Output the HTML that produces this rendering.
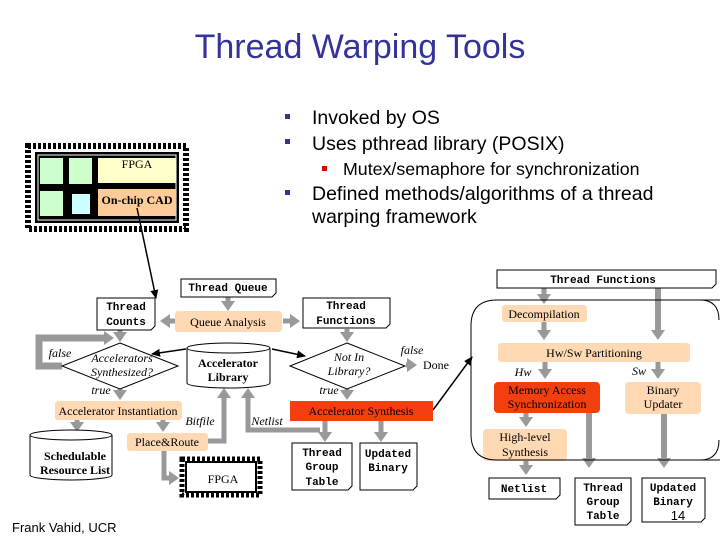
<!DOCTYPE html>
<html><head><meta charset="utf-8"><style>
body{margin:0;background:#fff;}
</style></head><body>
<svg width="720" height="540" viewBox="0 0 720 540" xmlns="http://www.w3.org/2000/svg" font-family="'Liberation Serif', serif">
<defs>
<marker id="g" markerUnits="userSpaceOnUse" markerWidth="14" markerHeight="14" refX="2" refY="7" orient="auto"><path d="M0,0 L10,7 L0,14 Z" fill="#999"/></marker>
<marker id="b" markerUnits="userSpaceOnUse" markerWidth="10" markerHeight="10" refX="8" refY="5" orient="auto"><path d="M0,1 L9,5 L0,9 Z" fill="#000"/></marker>
</defs>
<rect width="720" height="540" fill="#fff"/>
<text x="360" y="58" text-anchor="middle" font-family="'Liberation Sans', sans-serif" font-size="34" fill="#333399">Thread Warping Tools</text>
<g font-family="'Liberation Sans', sans-serif" font-size="19.5" fill="#000">
<rect x="285" y="114" width="5" height="5" fill="#333399"/><text x="312" y="124">Invoked by OS</text>
<rect x="285" y="139" width="5" height="5" fill="#333399"/><text x="312" y="150">Uses pthread library (POSIX)</text>
<rect x="322" y="166" width="5" height="5" fill="#d00"/><text x="343" y="175" font-size="17.8">Mutex/semaphore for synchronization</text>
<rect x="285" y="190" width="5" height="5" fill="#333399"/><text x="312" y="200">Defined methods/algorithms of a thread</text>
<text x="312" y="223">warping framework</text>
</g>
<g>
<rect x="28" y="146" width="158" height="83" fill="none" stroke="#000" stroke-width="6" stroke-dasharray="3,2"/>
<rect x="35" y="152" width="144" height="71" fill="#000"/>
<rect x="38" y="155" width="138" height="65" fill="none" stroke="#fff" stroke-width="1"/>
<rect x="40" y="158" width="23" height="26" fill="#cfc"/><rect x="69" y="158" width="23" height="26" fill="#cfc"/>
<rect x="40" y="191" width="23" height="25" fill="#cfc"/><rect x="72" y="194" width="18" height="20" fill="#cff"/>
<rect x="98" y="158" width="78" height="25" fill="#ffc"/><rect x="98" y="189" width="78" height="27" fill="#fc9"/>
<text x="137" y="168" text-anchor="middle" font-size="12">FPGA</text>
<text x="137" y="204" text-anchor="middle" font-size="12" font-weight="bold">On-chip CAD</text>
</g>
<line x1="137" y1="208" x2="156" y2="298" stroke="#000" stroke-width="1.5" marker-end="url(#b)"/>
<line x1="433" y1="410" x2="472" y2="357" stroke="#000" stroke-width="1.5" marker-end="url(#b)"/>
<g stroke="#999" stroke-width="5" fill="none" marker-end="url(#g)">
<line x1="228" y1="297" x2="228" y2="303"/>
<line x1="175" y1="321" x2="168" y2="321"/>
<line x1="283" y1="321" x2="292" y2="321"/>
<line x1="120" y1="330" x2="120" y2="334"/>
<line x1="347" y1="329" x2="347" y2="334"/>
<line x1="120" y1="389" x2="120" y2="392"/>
<line x1="347" y1="389" x2="347" y2="392"/>
<line x1="406" y1="365" x2="409" y2="365"/>
<line x1="77" y1="420" x2="77" y2="424"/>
<line x1="163" y1="420" x2="163" y2="424"/>
<line x1="325" y1="421" x2="325" y2="434"/>
<line x1="381" y1="421" x2="381" y2="434"/>
<polyline points="62,366 39,366 39,338 106,338" stroke-width="7"/>
<polyline points="208,441 224,441 224,396"/>
<polyline points="320,430 248,430 248,396"/>
<polyline points="164,451 164,478 171,478"/>
<line x1="544" y1="288" x2="544" y2="296"/>
<line x1="544" y1="322" x2="544" y2="332"/>
<line x1="658" y1="288" x2="658" y2="332" stroke-width="6"/>
<line x1="545" y1="362" x2="545" y2="371"/>
<line x1="658" y1="362" x2="658" y2="371"/>
<line x1="526" y1="413" x2="526" y2="419"/>
<line x1="526" y1="461" x2="526" y2="467"/>
<line x1="589" y1="413" x2="589" y2="460" stroke-width="6"/>
<line x1="664" y1="414" x2="664" y2="460" stroke-width="6"/>
</g>
<line x1="186" y1="349" x2="152" y2="354" stroke="#000" stroke-width="1.5" marker-end="url(#b)"/>
<line x1="272" y1="349" x2="305" y2="356" stroke="#000" stroke-width="1.5" marker-end="url(#b)"/>
<g fill="#fff" stroke="#000" stroke-width="1">
<path d="M181,279 H276 V293 L272,297 H181 Z"/>
<path d="M97,298 H155 V326 L151,330 H97 Z"/>
<path d="M303,298 H390 V324 L386,328 H303 Z"/>
<path d="M292,443 H352 V486 L348,490 H292 Z"/>
<path d="M360,443 H417 V486 L413,490 H360 Z"/>
<path d="M497,270 H716 V284 L712,288 H497 Z"/>
<path d="M489,478 H560 V495 L556,499 H489 Z"/>
<path d="M575,478 H631 V521 L627,525 H575 Z"/>
<path d="M642,478 H705 V518 L701,522 H642 Z"/>
</g>
<g font-family="'Liberation Mono', monospace" font-size="11" font-weight="bold" text-anchor="middle">
<text x="228" y="291">Thread Queue</text>
<text x="126" y="310">Thread</text><text x="126" y="325">Counts</text>
<text x="346" y="309">Thread</text><text x="346" y="324">Functions</text>
<text x="322" y="456">Thread</text><text x="322" y="470">Group</text><text x="322" y="485">Table</text>
<text x="388" y="457">Updated</text><text x="388" y="471">Binary</text>
<text x="603" y="283">Thread Functions</text>
<text x="524" y="492">Netlist</text>
<text x="603" y="491">Thread</text><text x="603" y="505">Group</text><text x="603" y="519">Table</text>
<text x="673" y="491">Updated</text><text x="673" y="505">Binary</text>
</g>
<text x="678" y="520" text-anchor="middle" font-size="13" font-family="'Liberation Sans', sans-serif">14</text>
<g fill="#fc9" fill-opacity="0.75">
<rect x="175" y="311" width="107" height="21" rx="3"/>
<rect x="55" y="401" width="127" height="19" rx="3"/>
<rect x="127" y="433" width="81" height="18" rx="3"/>
<rect x="502" y="305" width="85" height="17" rx="3"/>
<rect x="498" y="343" width="192" height="19" rx="3"/>
<rect x="625" y="382" width="76" height="32" rx="4"/>
<rect x="483" y="429" width="84" height="32" rx="4"/>
</g>
<rect x="290" y="401" width="143" height="20" fill="#f33f10"/>
<rect x="494" y="382" width="106" height="31" rx="4" fill="#f33f10"/>
<path d="M720,300 H497 Q471,300 471,326 V434 Q471,460 497,460 H720" fill="none" stroke="#000"/>
<path d="M700,300 Q719,300 719,320 M700,460 Q719,460 719,440" fill="none" stroke="#000"/>
<polygon points="120,343 178,366 120,389 62,366" fill="#fff" stroke="#000"/>
<polygon points="347,343 405,366 347,389 290,366" fill="#fff" stroke="#000"/>
<path d="M187,348 V383 A41.5,5 0 0 0 270,383 V348" fill="#fff" stroke="#000"/>
<ellipse cx="228.5" cy="348" rx="41.5" ry="5" fill="#fff" stroke="#000"/>
<path d="M30,435 V475 A41,5 0 0 0 112,475 V435" fill="#fff" stroke="#000"/>
<ellipse cx="71" cy="435" rx="41" ry="5" fill="#fff" stroke="#000"/>
<rect x="182" y="459" width="78" height="36" fill="none" stroke="#000" stroke-width="5" stroke-dasharray="3,2"/>
<rect x="186" y="462" width="70" height="30" fill="#fff" stroke="#000" stroke-width="2"/>
<text x="223" y="483" text-anchor="middle" font-size="12">FPGA</text>
<g font-size="12" text-anchor="middle">
<text x="228" y="326">Queue Analysis</text>
<text x="118" y="415">Accelerator Instantiation</text>
<text x="167" y="446">Place&amp;Route</text>
<text x="361" y="415">Accelerator Synthesis</text>
<text x="544" y="318">Decompilation</text>
<text x="594" y="357">Hw/Sw Partitioning</text>
<text x="547" y="394">Memory Access</text><text x="547" y="408">Synchronization</text>
<text x="663" y="394">Binary</text><text x="663" y="408">Updater</text>
<text x="525" y="441">High-level</text><text x="525" y="456">Synthesis</text>
<text x="436" y="369">Done</text>
<text x="228" y="367" font-weight="bold">Accelerator</text><text x="228" y="381" font-weight="bold">Library</text>
<text x="75" y="460" font-weight="bold">Schedulable</text><text x="75" y="474" font-weight="bold">Resource List</text>
</g>
<g font-size="12" font-style="italic" text-anchor="middle">
<text x="122" y="362">Accelerators</text><text x="122" y="376">Synthesized?</text>
<text x="349" y="361">Not In</text><text x="349" y="375">Library?</text>
<text x="60" y="357">false</text>
<text x="101" y="394">true</text>
<text x="329" y="394">true</text>
<text x="412" y="354">false</text>
<text x="200" y="425">Bitfile</text>
<text x="267" y="425">Netlist</text>
<text x="523" y="376">Hw</text>
<text x="639" y="375">Sw</text>
</g>
<text x="12" y="532" font-size="13" font-family="'Liberation Sans', sans-serif">Frank Vahid, UCR</text>
</svg>
</body></html>
